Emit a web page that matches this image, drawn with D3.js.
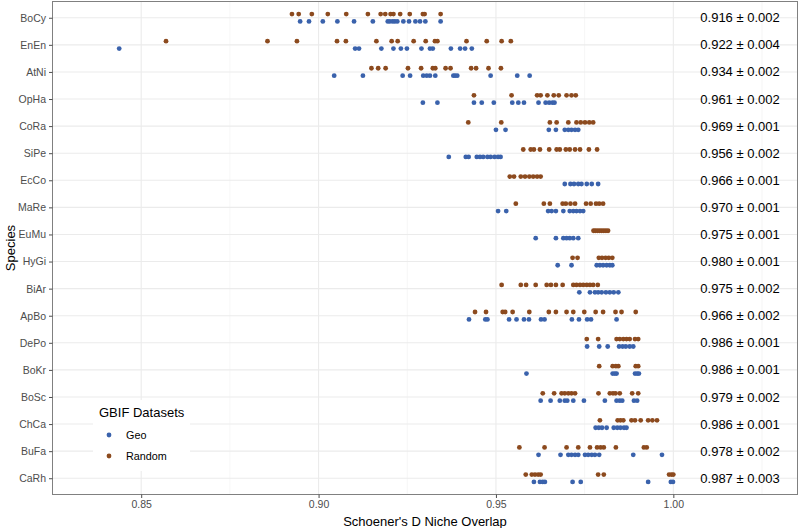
<!DOCTYPE html>
<html>
<head>
<meta charset="utf-8">
<script src="https://cdn.jsdelivr.net/npm/d3@7"></script>
<style>
  html, body { margin: 0; padding: 0; background: #ffffff; }
  svg { display: block; font-family: "Liberation Sans", Arial, Helvetica, sans-serif; }
</style>
</head>
<body>
<svg id="chart" width="800" height="528"></svg>
<script>
// ---------------- DATA ----------------
const species = ["BoCy","EnEn","AtNi","OpHa","CoRa","SiPe","EcCo","MaRe","EuMu","HyGi","BiAr","ApBo","DePo","BoKr","BoSc","ChCa","BuFa","CaRh"];

const geoValues = [
  [0.8948,0.8973,0.9012,0.9053,0.9100,0.9153,0.9195,0.9201,0.9209,0.9215,0.9222,0.9239,0.9255,0.9273,0.9286,0.9301,0.9344],
  [0.8438,0.9103,0.9114,0.9177,0.9211,0.9232,0.9249,0.9290,0.9314,0.9322,0.9373,0.9399,0.9413,0.9432],
  [0.9044,0.9125,0.9237,0.9258,0.9295,0.9305,0.9314,0.9329,0.9380,0.9385,0.9391,0.9485,0.9560,0.9595],
  [0.9294,0.9335,0.9438,0.9460,0.9494,0.9546,0.9563,0.9579,0.9620,0.9640,0.9650,0.9659,0.9665],
  [0.9500,0.9527,0.9649,0.9669,0.9694,0.9704,0.9713,0.9723,0.9732],
  [0.9367,0.9415,0.9423,0.9446,0.9455,0.9464,0.9476,0.9485,0.9496,0.9506,0.9513],
  [0.9694,0.9710,0.9720,0.9732,0.9741,0.9756,0.9770,0.9788],
  [0.9506,0.9529,0.9647,0.9657,0.9669,0.9690,0.9708,0.9718,0.9727,0.9737,0.9746],
  [0.9612,0.9669,0.9690,0.9699,0.9708,0.9718,0.9732],
  [0.9674,0.9713,0.9784,0.9793,0.9802,0.9812,0.9821,0.9828],
  [0.9735,0.9765,0.9779,0.9788,0.9798,0.9810,0.9821,0.9832,0.9845],
  [0.9424,0.9470,0.9476,0.9537,0.9558,0.9579,0.9593,0.9627,0.9637,0.9714,0.9734,0.9757,0.9768,0.9840],
  [0.9757,0.9791,0.9815,0.9847,0.9857,0.9866,0.9877,0.9887],
  [0.9586,0.9829,0.9835,0.9840,0.9892,0.9898,0.9903],
  [0.9626,0.9654,0.9680,0.9694,0.9701,0.9718,0.9748,0.9807,0.9840,0.9849,0.9856,0.9889,0.9898],
  [0.9781,0.9790,0.9799,0.9812,0.9832,0.9842,0.9851,0.9861,0.9868],
  [0.9620,0.9682,0.9704,0.9713,0.9723,0.9732,0.9751,0.9760,0.9770,0.9779,0.9791,0.9887,0.9968],
  [0.9607,0.9624,0.9632,0.9638,0.9716,0.9739,0.9929,0.9993,0.9999]
];

const randomValues = [
  [0.8925,0.8944,0.8981,0.9026,0.9078,0.9139,0.9175,0.9188,0.9203,0.9211,0.9230,0.9257,0.9294,0.9299,0.9344],
  [0.8570,0.8856,0.8939,0.9052,0.9077,0.9163,0.9206,0.9223,0.9268,0.9302,0.9328,0.9335,0.9417,0.9474,0.9516,0.9542],
  [0.9149,0.9168,0.9189,0.9252,0.9289,0.9322,0.9329,0.9358,0.9372,0.9430,0.9444,0.9479,0.9514],
  [0.9438,0.9544,0.9616,0.9626,0.9645,0.9663,0.9677,0.9699,0.9713,0.9725],
  [0.9422,0.9515,0.9652,0.9671,0.9704,0.9727,0.9739,0.9751,0.9763,0.9774],
  [0.9577,0.9598,0.9607,0.9624,0.9650,0.9671,0.9680,0.9697,0.9708,0.9723,0.9737,0.9762,0.9785],
  [0.9539,0.9551,0.9570,0.9582,0.9594,0.9605,0.9616,0.9626],
  [0.9556,0.9635,0.9652,0.9688,0.9697,0.9710,0.9723,0.9754,0.9767,0.9782,0.9791,0.9802],
  [0.9775,0.9780,0.9786,0.9792,0.9798,0.9804,0.9810,0.9816],
  [0.9716,0.9730,0.9790,0.9799,0.9809,0.9818,0.9828],
  [0.9516,0.9570,0.9585,0.9612,0.9643,0.9655,0.9669,0.9688,0.9718,0.9727,0.9737,0.9746,0.9756,0.9765,0.9774,0.9787],
  [0.9441,0.9472,0.9519,0.9526,0.9547,0.9594,0.9649,0.9669,0.9699,0.9718,0.9749,0.9781,0.9802,0.9837,0.9854,0.9894],
  [0.9756,0.9788,0.9840,0.9849,0.9859,0.9868,0.9877,0.9892,0.9901],
  [0.9791,0.9829,0.9838,0.9845,0.9894,0.9901],
  [0.9632,0.9664,0.9685,0.9694,0.9704,0.9713,0.9723,0.9789,0.9821,0.9830,0.9837,0.9849,0.9884,0.9901],
  [0.9793,0.9843,0.9851,0.9859,0.9882,0.9892,0.9908,0.9929,0.9941,0.9954],
  [0.9566,0.9637,0.9699,0.9732,0.9765,0.9785,0.9795,0.9804,0.9838,0.9917,0.9925],
  [0.9584,0.9601,0.9610,0.9619,0.9626,0.9788,0.9804,0.9988,0.9995,1.0000]
];

const meanLabels = ["0.916","0.922","0.934","0.961","0.969","0.956","0.966","0.970","0.975","0.980","0.975","0.966","0.986","0.986","0.979","0.986","0.978","0.987"];
const sdLabels   = ["0.002","0.004","0.002","0.002","0.001","0.002","0.001","0.001","0.001","0.001","0.002","0.002","0.001","0.001","0.002","0.001","0.002","0.003"];

const xTicks = [0.85, 0.90, 0.95, 1.00];
const xMinorTicks = [0.875, 0.925, 0.975, 1.025];
const datasets = ["Geo", "Random"];

// ---------------- LAYOUT ----------------
const W = 800, H = 528;
const panel = { left: 52.5, right: 797.5, top: 1.5, bottom: 494.5 };
const colors = { Geo: "#3A62AC", Random: "#8C4A1E" };
const dodge = { Geo: 3.7, Random: -3.7 };
const labelX = 1.0188;

const svg = d3.select("#chart");

const x = d3.scaleLinear().domain([0.825, 1.035]).range([panel.left, panel.right]);
const y = d3.scalePoint().domain(species).range([panel.top, panel.bottom]).padding(0.6);

// panel background
svg.append("rect")
  .attr("x", panel.left).attr("y", panel.top)
  .attr("width", panel.right - panel.left).attr("height", panel.bottom - panel.top)
  .attr("fill", "#ffffff");

// grid lines
const grid = svg.append("g");
grid.selectAll("line.minor").data(xMinorTicks).join("line")
  .attr("x1", d => x(d)).attr("x2", d => x(d))
  .attr("y1", panel.top).attr("y2", panel.bottom)
  .attr("stroke", "#f4f4f4").attr("stroke-width", 0.8);
grid.selectAll("line.majx").data(xTicks).join("line")
  .attr("x1", d => x(d)).attr("x2", d => x(d))
  .attr("y1", panel.top).attr("y2", panel.bottom)
  .attr("stroke", "#ebebeb").attr("stroke-width", 1.1);
grid.selectAll("line.majy").data(species).join("line")
  .attr("x1", panel.left).attr("x2", panel.right)
  .attr("y1", d => y(d)).attr("y2", d => y(d))
  .attr("stroke", "#ebebeb").attr("stroke-width", 1.1);

// points
const points = [];
species.forEach((s, i) => {
  geoValues[i].forEach(v => points.push({ s, v, set: "Geo" }));
  randomValues[i].forEach(v => points.push({ s, v, set: "Random" }));
});
svg.append("g").selectAll("circle").data(points).join("circle")
  .attr("cx", d => x(d.v))
  .attr("cy", d => y(d.s) + dodge[d.set])
  .attr("r", 2.4)
  .attr("fill", d => colors[d.set]);

// annotations
svg.append("g").selectAll("text").data(species).join("text")
  .attr("x", x(labelX))
  .attr("y", d => y(d))
  .attr("dy", "0.35em")
  .attr("text-anchor", "middle")
  .attr("font-size", 13)
  .attr("fill", "#000000")
  .text((d, i) => `${meanLabels[i]} \u00B1 ${sdLabels[i]}`);

// legend
const lg = svg.append("g");
lg.append("rect").attr("x", 93).attr("y", 400).attr("width", 97).attr("height", 71).attr("fill", "#ffffff");
lg.append("text").attr("x", 99).attr("y", 412).attr("dy", "0.35em")
  .attr("font-size", 13).attr("fill", "#000").text("GBIF Datasets");
datasets.forEach((dname, i) => {
  lg.append("circle").attr("cx", 109).attr("cy", 435 + i * 21).attr("r", 2.4).attr("fill", colors[dname]);
  lg.append("text").attr("x", 126).attr("y", 435 + i * 21).attr("dy", "0.35em")
    .attr("font-size", 10.8).attr("fill", "#000").text(dname);
});

// panel border
svg.append("rect")
  .attr("x", panel.left).attr("y", panel.top)
  .attr("width", panel.right - panel.left).attr("height", panel.bottom - panel.top)
  .attr("fill", "none").attr("stroke", "#808080").attr("stroke-width", 1);

// axes
const xAxis = svg.append("g").attr("transform", `translate(0,${panel.bottom})`)
  .call(d3.axisBottom(x).tickValues(xTicks).tickFormat(d3.format(".2f")).tickSize(3.5).tickPadding(3));
const yAxis = svg.append("g").attr("transform", `translate(${panel.left},0)`)
  .call(d3.axisLeft(y).tickSize(3.5).tickPadding(3));
[xAxis, yAxis].forEach(a => {
  a.select(".domain").remove();
  a.selectAll(".tick line").attr("stroke", "#4d4d4d").attr("stroke-width", 1);
  a.selectAll(".tick text").attr("fill", "#4d4d4d").attr("font-size", 10.5)
    .attr("font-family", "Liberation Sans, Arial, sans-serif");
});

// axis titles
svg.append("text")
  .attr("x", (panel.left + panel.right) / 2).attr("y", 521).attr("dy", "0.35em")
  .attr("text-anchor", "middle").attr("font-size", 13).attr("fill", "#000")
  .text("Schoener's D Niche Overlap");
svg.append("text")
  .attr("transform", `translate(10,${(panel.top + panel.bottom) / 2}) rotate(-90)`)
  .attr("dy", "0.35em")
  .attr("text-anchor", "middle").attr("font-size", 13).attr("fill", "#000")
  .text("Species");
</script>
</body>
</html>
